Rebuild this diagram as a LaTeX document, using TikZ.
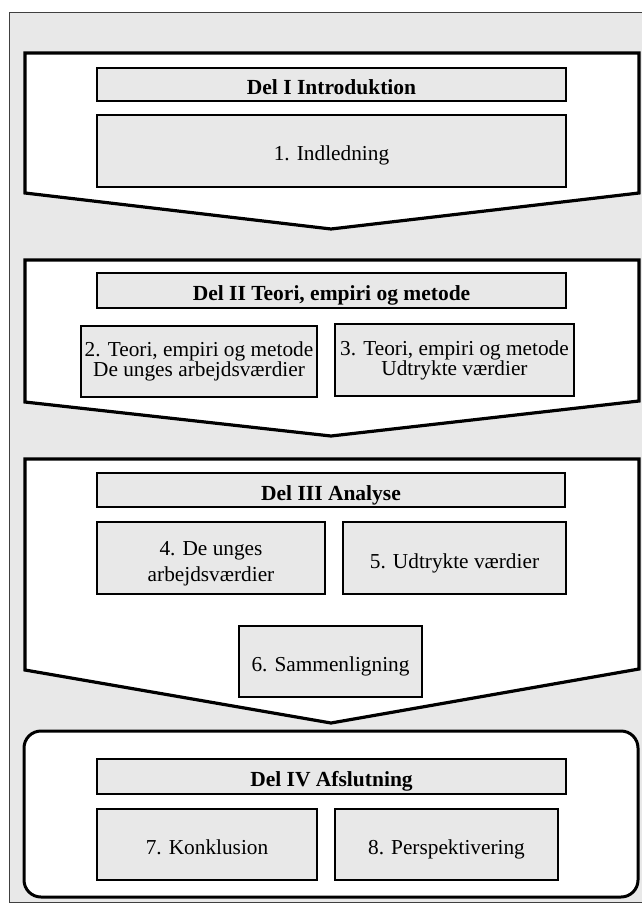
\documentclass[tikz,border=0pt]{standalone}
\usepackage{fontspec}
\setmainfont{Liberation Serif}
\definecolor{bg}{RGB}{232,232,232}
\begin{document}
\begin{tikzpicture}[x=1pt,y=-1pt,
  chev/.style={draw=black, line width=3.2pt, fill=white, line join=miter},
  hdr/.style={draw=black, line width=1.3pt, fill=bg, inner sep=0pt,
    text height=20pt, text depth=0pt,
    font=\fontsize{21.5}{20}\selectfont\bfseries},
  box/.style={draw=black, line width=1.3pt, fill=bg, inner sep=0pt, align=center,
    font=\fontsize{21.3}{20}\selectfont},
  one/.style={text height=20pt, text depth=0pt}]
\useasboundingbox (0,0) rectangle (641,904);
% background panel
\draw[draw=black!75, line width=1pt, fill=bg] (9,13) rectangle (646,902);
% chevrons
\draw[chev] (25,53) -- (639,53) -- (639,193) -- (331,229) -- (25,193) -- cycle;
\draw[chev] (25,260) -- (639,260) -- (639,401) -- (331,436) -- (25,402) -- cycle;
\draw[chev] (25,459) -- (639,459) -- (639,669) -- (331,723) -- (25,670) -- cycle;
\draw[line width=3pt, fill=white, rounded corners=17pt] (24,731) rectangle (638,897);
% Del I
\node[hdr, minimum width=469pt, minimum height=33pt] (h1) at (331.5,84.5) {Del I Introduktion};
\node[box, one, minimum width=469pt, minimum height=72pt] (b1) at (331.5,151) {1. Indledning};
% Del II
\node[hdr, minimum width=469pt, minimum height=35pt] (h2) at (331.5,290.5) {Del II Teori, empiri og metode};
\node[box, minimum width=236pt, minimum height=71pt] (b2) at (199,361.5) {2. Teori, empiri og metode\\De unges arbejdsværdier};
\node[box, minimum width=239pt, minimum height=72pt] (b3) at (454.5,360) {3. Teori, empiri og metode\\Udtrykte værdier};
% Del III
\node[hdr, minimum width=468pt, minimum height=34pt] (h3) at (331,490) {Del III Analyse};
\node[box, minimum width=228pt, minimum height=72pt, text height=46pt, text depth=0pt,
  font=\fontsize{21.3}{26}\selectfont] (b4) at (211,558) {4. De unges\\arbejdsværdier};
\node[box, one, minimum width=223pt, minimum height=72pt] (b5) at (454.5,558) {5. Udtrykte værdier};
\node[box, one, minimum width=183pt, minimum height=71pt] (b6) at (330.5,661.5) {6. Sammenligning};
% Del IV
\node[hdr, minimum width=469pt, minimum height=35pt] (h4) at (331.5,776.5) {Del IV Afslutning};
\node[box, one, minimum width=220pt, minimum height=71pt] (b7) at (207,844.5) {7. Konklusion};
\node[box, one, minimum width=223pt, minimum height=71pt] (b8) at (446.5,844.5) {8. Perspektivering};
\end{tikzpicture}
\end{document}
